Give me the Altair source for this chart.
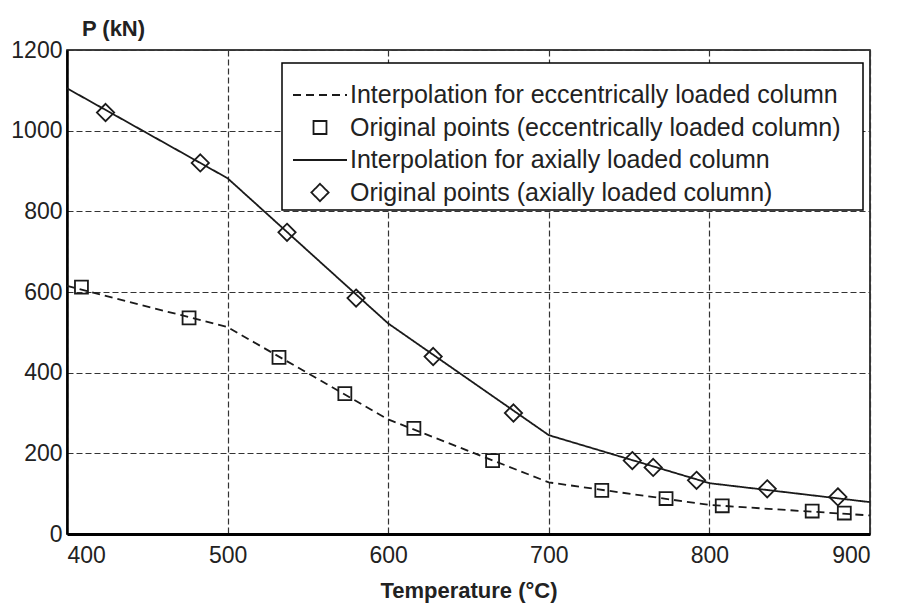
import altair as alt
import pandas as pd

# Interpolation curves (node temperatures and loads)
interp_temp = [400, 500, 600, 700, 800, 900]
interp_ecc = [615, 513, 284, 128, 72, 46]
interp_axial = [1105, 882, 522, 245, 126, 79]

# Original points
pts_ecc_temp = [409, 476, 532, 573, 616, 665, 733, 773, 808, 864, 884]
pts_ecc_p = [612, 536, 438, 348, 262, 182, 108, 88, 70, 57, 52]
pts_axial_temp = [424, 483, 537, 580, 628, 678, 752, 765, 792, 836, 880]
pts_axial_p = [1045, 920, 748, 585, 440, 300, 182, 165, 133, 112, 92]

series = [
    "Interpolation for eccentrically loaded column",
    "Original points (eccentrically loaded column)",
    "Interpolation for axially loaded column",
    "Original points (axially loaded column)",
]

x_ticks = [400, 500, 600, 700, 800, 900]
y_ticks = [0, 200, 400, 600, 800, 1000, 1200]

lines_df = pd.concat([
    pd.DataFrame({"T": interp_temp, "P": interp_ecc, "series": series[0]}),
    pd.DataFrame({"T": interp_temp, "P": interp_axial, "series": series[2]}),
])
pts_df = pd.concat([
    pd.DataFrame({"T": pts_ecc_temp, "P": pts_ecc_p, "series": series[1]}),
    pd.DataFrame({"T": pts_axial_temp, "P": pts_axial_p, "series": series[3]}),
])

FONT = "Liberation Sans"
INK = "#1a1a1a"
LINE = "M-2.25,0H2.25"
SQUARE = "M-0.54,-0.54H0.54V0.54H-0.54Z"
DIAMOND = "M0,-0.72L0.72,0L0,0.72L-0.72,0Z"

pad = "\u2800" * 1
legend = alt.Legend(
    title=" ", titleFontSize=2, titlePadding=13,
    orient="none", legendX=215, legendY=13, padding=4,
    fillColor="white", strokeColor="black",
    symbolSize=576, symbolStrokeColor=INK, symbolStrokeWidth=1.8,
    symbolFillColor="transparent", symbolOffset=21,
    labelOffset=17, labelFont=FONT, labelFontSize=25, labelColor="#222",
    labelLimit=1000, rowPadding=6.5,
    labelExpr="datum.label + '" + pad + "'",
)

x_enc = alt.X("T:Q", scale=alt.Scale(domain=[400, 900], nice=False),
              axis=alt.Axis(values=x_ticks, format="d", title="Temperature (°C)",
                            titleY=56, titleBaseline="middle", labelPadding=10,
                            domainWidth=3))
y_enc = alt.Y("P:Q", scale=alt.Scale(domain=[0, 1200], nice=False),
              axis=alt.Axis(values=y_ticks, format="d", title="P (kN)", titleAngle=0,
                            titleX=46, titleY=-22, titleAlign="center",
                            titleBaseline="middle", labelPadding=5,
                            domainWidth=2.5))

lines = alt.Chart(lines_df).mark_line(color=INK, strokeWidth=1.8).encode(
    x=x_enc, y=y_enc,
    strokeDash=alt.StrokeDash("series:N", scale=alt.Scale(
        domain=series, range=[[8, 5], [1, 0], [1, 0], [1, 0]]), legend=legend),
)
points = alt.Chart(pts_df).mark_point(
    filled=False, color=INK, size=576, strokeWidth=1.8, opacity=1
).encode(
    x=x_enc, y=y_enc,
    shape=alt.Shape("series:N", scale=alt.Scale(
        domain=series, range=[LINE, SQUARE, LINE, DIAMOND]), legend=legend),
)

chart = alt.layer(lines, points).properties(
    width=803, height=484,
    autosize=alt.AutoSizeParams(type="none"),
    padding={"left": 67, "top": 50, "right": 34, "bottom": 72},
    background="white",
).configure_axis(
    grid=True, gridColor="#333", gridDash=[6, 3], gridWidth=1.2,
    domainColor="black", tickSize=0,
    labelFont=FONT, labelFontSize=23, labelColor="#222",
    titleFont=FONT, titleFontSize=22, titleFontWeight="bold", titleColor="#222",
).configure_view(
    stroke="black", strokeWidth=1.5,
).configure_legend(
    strokeWidth=1.5,
)

chart.save("out.html", embed_options={"renderer": "svg", "actions": False})
